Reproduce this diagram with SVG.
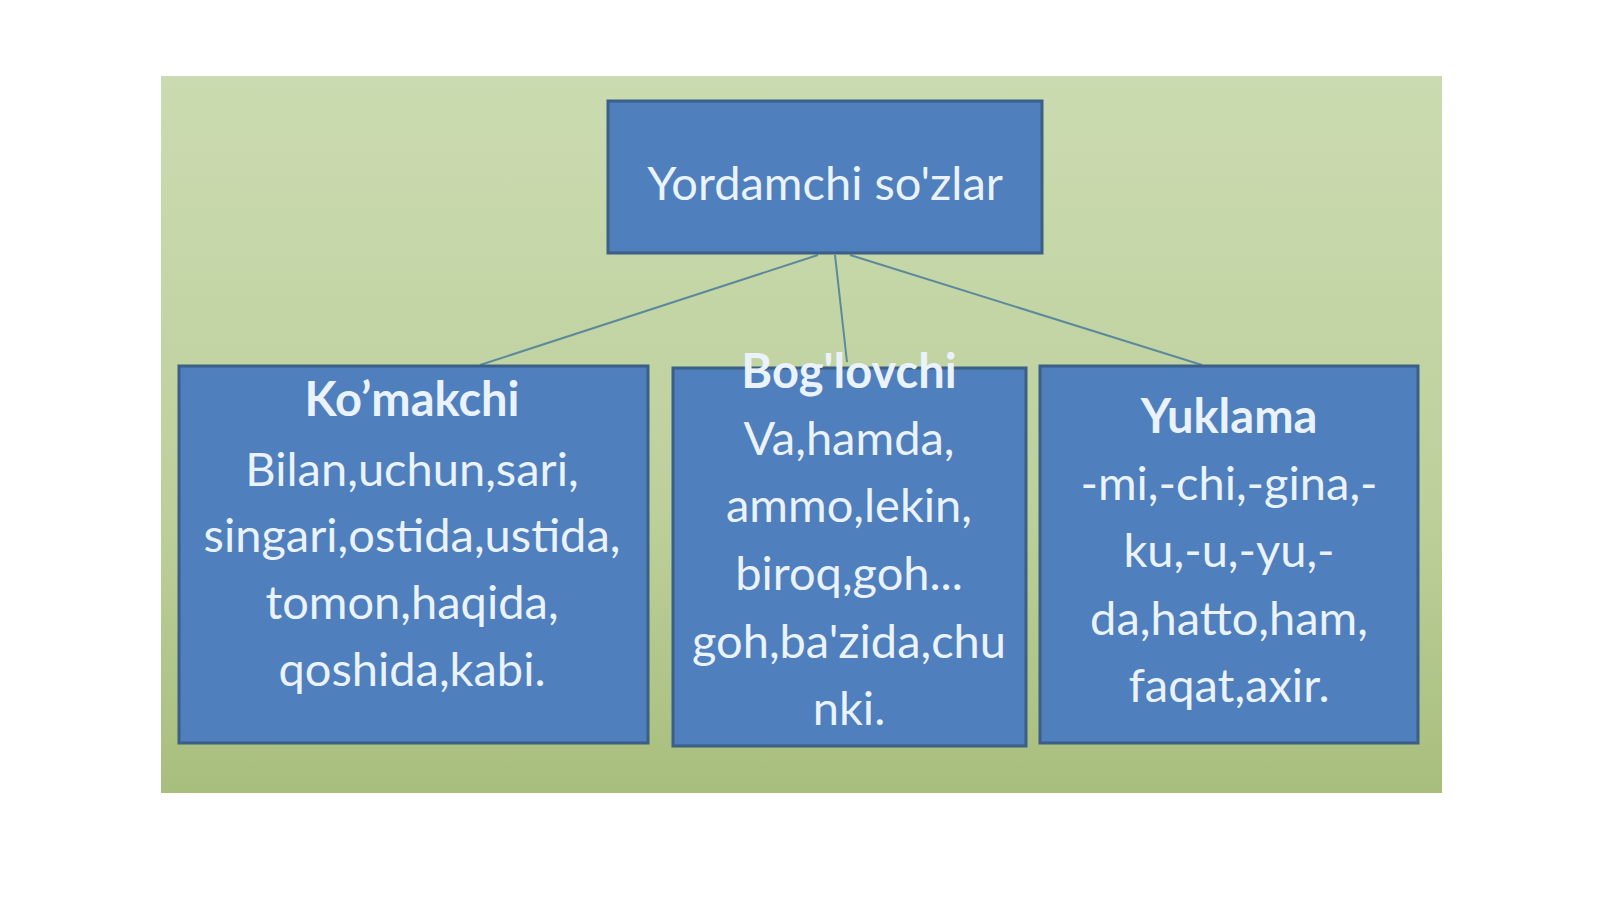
<svg xmlns="http://www.w3.org/2000/svg" width="1600" height="899" viewBox="0 0 1600 899">
<defs>
<linearGradient id="bg" x1="0" y1="0" x2="0" y2="1">
<stop offset="0" stop-color="#cbdbb1"/>
<stop offset="0.6" stop-color="#bdd09b"/>
<stop offset="1" stop-color="#a8be7d"/>
</linearGradient>
</defs>
<style>
.box{fill:#4f7fbc;stroke:#3b5f86;stroke-width:3}
.t{font-family:Lato,"Open Sans","Liberation Sans",sans-serif;fill:#eaf2fb;text-anchor:middle;font-size:47px}
.b{font-weight:bold}
.c{stroke:#5b8a9c;stroke-width:2;fill:none}
</style>
<rect width="1600" height="899" fill="#ffffff"/>
<rect x="161" y="76" width="1281" height="717" fill="url(#bg)"/>
<g id="connectors">
<line class="c" x1="818" y1="255" x2="480" y2="365"/>
<line class="c" x1="835" y1="255" x2="847" y2="362"/>
<line class="c" x1="850" y1="255" x2="1202" y2="365"/>
</g>
<g id="root">
<rect class="box" x="608" y="101" width="434" height="152"/>
<text class="t" x="825" y="200" font-size="49">Yordamchi so'zlar</text>
</g>
<g id="komakchi">
<rect class="box" x="179" y="366" width="469" height="377"/>
<text class="t b" x="412" y="416">Ko’makchi</text>
<text class="t" x="412" y="486">Bilan,uchun,sari,</text>
<text class="t" x="412" y="552">singari,ostida,ustida,</text>
<text class="t" x="412" y="619">tomon,haqida,</text>
<text class="t" x="412" y="686">qoshida,kabi.</text>
</g>
<g id="boglovchi">
<rect class="box" x="673" y="368" width="353" height="378"/>
<text class="t b" x="849" y="388">Bog'lovchi</text>
<text class="t" x="849" y="455">Va,hamda,</text>
<text class="t" x="849" y="522">ammo,lekin,</text>
<text class="t" x="849" y="590">biroq,goh...</text>
<text class="t" x="849" y="658">goh,ba'zida,chu</text>
<text class="t" x="849" y="725">nki.</text>
</g>
<g id="yuklama">
<rect class="box" x="1040" y="366" width="378" height="377"/>
<text class="t b" x="1229" y="433">Yuklama</text>
<text class="t" x="1229" y="500">-mi,-chi,-gina,-</text>
<text class="t" x="1229" y="567">ku,-u,-yu,-</text>
<text class="t" x="1229" y="635">da,hatto,ham,</text>
<text class="t" x="1229" y="702">faqat,axir.</text>
</g>
</svg>
